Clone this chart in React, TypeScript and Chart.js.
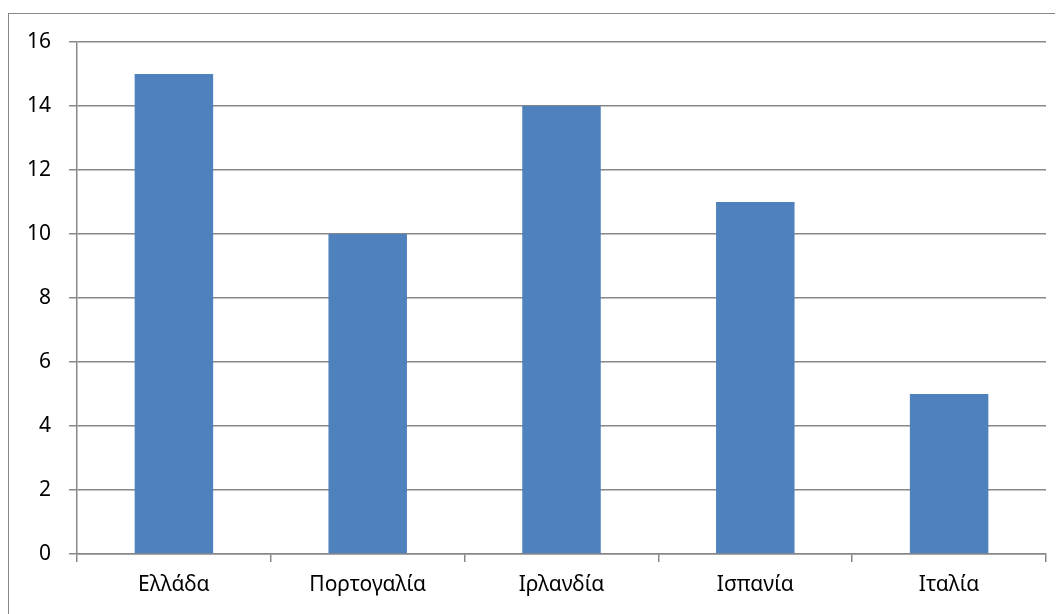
import React, { useEffect, useRef } from "react";
import { Chart, registerables } from "chart.js";

Chart.register(...registerables);

const categories = ["Ελλάδα", "Πορτογαλία", "Ιρλανδία", "Ισπανία", "Ιταλία"];
const values = [15, 10, 14, 11, 5];
const yMin = 0;
const yMax = 16;
const yStep = 2;

const frame = {
  id: "frame",
  beforeDraw(chart: any) {
    const { ctx, width } = chart;
    ctx.save();
    ctx.strokeStyle = "#878787";
    ctx.lineWidth = 1;
    ctx.strokeRect(0.5, 5.5, width - 1, 1000);
    ctx.restore();
  },
};

export default function App() {
  const ref = useRef<HTMLCanvasElement>(null);
  useEffect(() => {
    if (!ref.current) return;
    const font = { family: "'Noto Sans', sans-serif", size: 21 };
    const chart = new Chart(ref.current, {
      type: "bar",
      data: {
        labels: categories,
        datasets: [
          {
            data: values,
            backgroundColor: "#4F81BD",
            categoryPercentage: 1,
            barPercentage: 0.405,
          },
        ],
      },
      options: {
        animation: false,
        responsive: false,
        maintainAspectRatio: false,
        layout: { padding: { left: 0, top: 34, right: 17, bottom: 0 } },
        plugins: { legend: { display: false }, tooltip: { enabled: false } },
        scales: {
          x: {
            grid: {
              display: true,
              drawOnChartArea: false,
              drawTicks: true,
              tickLength: 8,
              color: "#888888",
              lineWidth: 1.5,
              offset: true,
            },
            border: { display: true, color: "#888888", width: 1.5 },
            ticks: { color: "#000", font, padding: 10, maxRotation: 0 },
            afterFit(scale: any) {
              scale.height = 60;
            },
          },
          y: {
            min: yMin,
            max: yMax,
            ticks: { stepSize: yStep, color: "#000", font, padding: 18 },
            grid: {
              color: "#888888",
              lineWidth: 1.5,
              tickLength: 8,
              drawTicks: true,
            },
            border: { display: true, color: "#888888", width: 1.5 },
            afterFit(scale: any) {
              scale.width = 69;
            },
          },
        },
      },
      plugins: [frame],
    });
    return () => chart.destroy();
  }, []);
  return (
    <div style={{ width: 1055, height: 606 }}>
      <canvas ref={ref} width={1055} height={606} style={{ display: "block" }} />
    </div>
  );
}
